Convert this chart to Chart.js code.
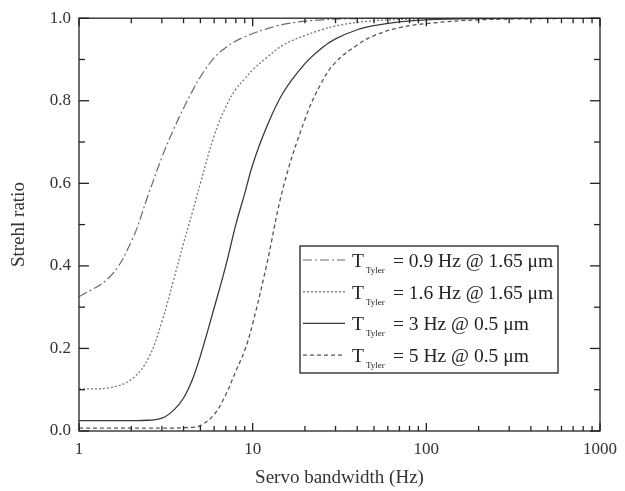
<!DOCTYPE html>
<html lang="en">
<head>
    <meta charset="UTF-8">
    <title>Strehl ratio vs servo bandwidth</title>
    <script src="https://cdn.jsdelivr.net/npm/chart.js"></script>
    <style>
        html, body { margin: 0; padding: 0; background: #fff; }
        #wrap { width: 625px; height: 491px; }
    </style>
</head>
<body>
    <div id="wrap"><canvas id="strehlChart" width="625" height="491"></canvas></div>

    <script>
        // servo bandwidth (Hz), shared by all curves
        const freq = [1, 1.5, 2, 2.5, 3, 3.5, 4, 4.5, 5, 6, 7, 8, 9, 10, 12, 15, 20, 25, 30, 40, 50, 70, 100, 200, 500, 1000];

        // Strehl ratio
        const tyler09 = [0.325, 0.373, 0.459, 0.571, 0.663, 0.73, 0.782, 0.824, 0.858, 0.904, 0.929, 0.945, 0.955, 0.963, 0.974, 0.985, 0.993, 0.996, 0.998, 0.999, 0.9995, 1, 1, 1, 1, 1];
        const tyler16 = [0.102, 0.105, 0.125, 0.175, 0.265, 0.365, 0.455, 0.53, 0.60, 0.715, 0.785, 0.828, 0.853, 0.875, 0.904, 0.935, 0.958, 0.972, 0.981, 0.990, 0.994, 0.997, 0.999, 1, 1, 1];
        const tyler3 = [0.025, 0.025, 0.025, 0.026, 0.031, 0.05, 0.08, 0.125, 0.182, 0.298, 0.40, 0.50, 0.575, 0.645, 0.735, 0.82, 0.89, 0.928, 0.95, 0.972, 0.982, 0.991, 0.996, 0.999, 1, 1];
        const tyler5 = [0.007, 0.007, 0.007, 0.007, 0.007, 0.007, 0.008, 0.009, 0.013, 0.04, 0.088, 0.145, 0.195, 0.26, 0.40, 0.59, 0.755, 0.845, 0.893, 0.935, 0.958, 0.977, 0.987, 0.996, 0.999, 1];

        const legendText = ['= 0.9 Hz @ 1.65 \u03bcm', '= 1.6 Hz @ 1.65 \u03bcm', '= 3 Hz @ 0.5 \u03bcm', '= 5 Hz @ 0.5 \u03bcm'];

        const majorX = [1, 10, 100, 1000];
        const minorX = [2, 3, 4, 5, 6, 7, 8, 9, 20, 30, 40, 50, 60, 70, 80, 90, 200, 300, 400, 500, 600, 700, 800, 900];
        const majorY = [0, 0.2, 0.4, 0.6, 0.8, 1.0];
        const minorY = [0.1, 0.3, 0.5, 0.7, 0.9];

        const serif = "'Liberation Serif', 'DejaVu Serif', serif";

        function pts(ys) {
            return freq.map((f, i) => ({ x: f, y: ys[i] }));
        }

        function line(ctx, x1, y1, x2, y2) {
            ctx.beginPath();
            ctx.moveTo(x1, y1);
            ctx.lineTo(x2, y2);
            ctx.stroke();
        }

        // frame, inward ticks on all four sides and the boxed legend
        const framePlugin = {
            id: 'frame',
            afterDatasetsDraw(chart) {
                const ctx = chart.ctx;
                const a = chart.chartArea;
                const x = chart.scales.x, y = chart.scales.y;
                ctx.save();
                ctx.strokeStyle = '#222';
                ctx.lineWidth = 1.3;
                ctx.setLineDash([]);
                ctx.strokeRect(a.left, a.top, a.right - a.left, a.bottom - a.top);

                majorX.forEach(v => {
                    const px = x.getPixelForValue(v);
                    line(ctx, px, a.bottom, px, a.bottom - 8);
                    line(ctx, px, a.top, px, a.top + 8);
                });
                minorX.forEach(v => {
                    const px = x.getPixelForValue(v);
                    line(ctx, px, a.bottom, px, a.bottom - 5);
                    line(ctx, px, a.top, px, a.top + 5);
                });
                majorY.forEach(v => {
                    const py = y.getPixelForValue(v);
                    line(ctx, a.left, py, a.left + 10, py);
                    line(ctx, a.right, py, a.right - 10, py);
                });
                minorY.forEach(v => {
                    const py = y.getPixelForValue(v);
                    line(ctx, a.left, py, a.left + 6, py);
                    line(ctx, a.right, py, a.right - 6, py);
                });

                // legend
                const bx = 300, by = 246, bw = 258, bh = 127;
                ctx.fillStyle = '#fff';
                ctx.fillRect(bx, by, bw, bh);
                ctx.strokeRect(bx, by, bw, bh);
                chart.data.datasets.forEach((ds, i) => {
                    const ry = by + 14 + i * 31.7;
                    ctx.strokeStyle = ds.borderColor;
                    ctx.lineWidth = ds.borderWidth;
                    ctx.setLineDash(ds.borderDash);
                    line(ctx, bx + 3, ry, bx + 45, ry);
                    ctx.setLineDash([]);
                    ctx.fillStyle = '#222';
                    ctx.textBaseline = 'alphabetic';
                    ctx.font = '19.5px ' + serif;
                    ctx.fillText('T', bx + 52, ry + 7);
                    ctx.font = '9px ' + serif;
                    ctx.fillText('Tyler', bx + 66, ry + 13);
                    ctx.font = '19.5px ' + serif;
                    ctx.fillText(legendText[i], bx + 93, ry + 7);
                });
                ctx.restore();
            }
        };

        const ctx = document.getElementById('strehlChart').getContext('2d');
        new Chart(ctx, {
            type: 'line',
            data: {
                datasets: [{
                    label: 'T_Tyler ' + legendText[0],
                    data: pts(tyler09),
                    borderColor: '#6a6a6a',
                    borderWidth: 1.2,
                    borderDash: [9, 3, 2, 3]
                }, {
                    label: 'T_Tyler ' + legendText[1],
                    data: pts(tyler16),
                    borderColor: '#777',
                    borderWidth: 1.3,
                    borderDash: [2, 2]
                }, {
                    label: 'T_Tyler ' + legendText[2],
                    data: pts(tyler3),
                    borderColor: '#3a3a3a',
                    borderWidth: 1.3,
                    borderDash: []
                }, {
                    label: 'T_Tyler ' + legendText[3],
                    data: pts(tyler5),
                    borderColor: '#555',
                    borderWidth: 1.3,
                    borderDash: [4, 3]
                }]
            },
            options: {
                responsive: false,
                animation: false,
                devicePixelRatio: 1,
                layout: { padding: { left: 0, right: 25, top: 13, bottom: 0 } },
                elements: {
                    point: { radius: 0 },
                    line: { tension: 0.4, fill: false }
                },
                plugins: {
                    legend: { display: false },
                    tooltip: { enabled: false }
                },
                scales: {
                    x: {
                        type: 'logarithmic',
                        min: 1,
                        max: 1000,
                        afterBuildTicks: scale => { scale.ticks = majorX.map(v => ({ value: v })); },
                        afterFit: scale => { scale.height = 60; },
                        grid: { display: false, drawTicks: false },
                        border: { display: false },
                        ticks: {
                            color: '#333',
                            padding: 8,
                            maxRotation: 0,
                            font: { family: serif, size: 17 },
                            callback: v => String(v)
                        },
                        title: {
                            display: true,
                            text: 'Servo bandwidth (Hz)',
                            color: '#333',
                            padding: { top: 0, bottom: 2 },
                            font: { family: serif, size: 19 }
                        }
                    },
                    y: {
                        min: 0,
                        max: 1,
                        afterFit: scale => { scale.width = 79; },
                        grid: { display: false, drawTicks: false },
                        border: { display: false },
                        ticks: {
                            stepSize: 0.2,
                            color: '#333',
                            padding: 8,
                            font: { family: serif, size: 17 },
                            callback: v => v.toFixed(1)
                        },
                        title: {
                            display: true,
                            text: 'Strehl ratio',
                            color: '#333',
                            padding: { top: 8, bottom: 0 },
                            font: { family: serif, size: 19 }
                        }
                    }
                }
            },
            plugins: [framePlugin]
        });
    </script>
</body>
</html>
